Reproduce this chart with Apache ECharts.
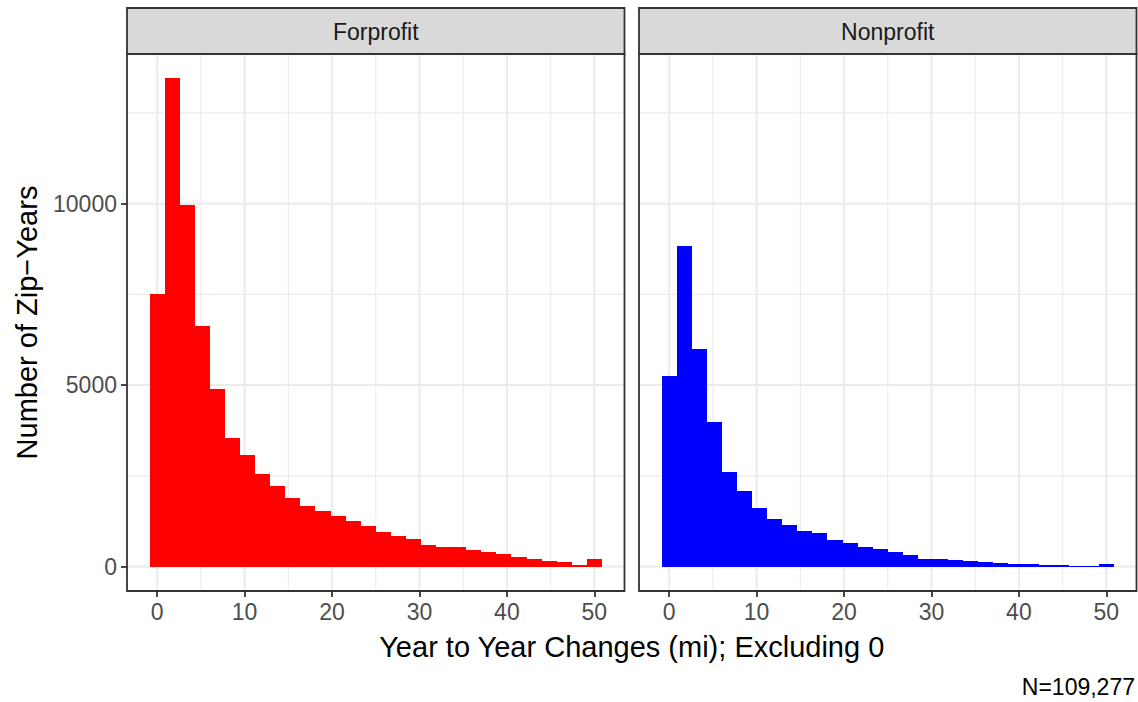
<!DOCTYPE html>
<html>
<head>
<meta charset="utf-8">
<title>Year to Year Changes</title>
<script src="https://cdn.jsdelivr.net/npm/echarts@6/dist/echarts.min.js"></script>
<style>
  html, body { margin: 0; padding: 0; background: #ffffff; overflow: hidden; }
  #chart { width: 1138px; height: 702px; }
</style>
</head>
<body>
<div id="chart"></div>
<script>
// Histogram counts per bin (30 bins, centred on 0 … 50 mi)
const FACETS = ['Forprofit', 'Nonprofit'];
const FORPROFIT_COUNTS = [7500, 13450, 9950, 6630, 4890, 3550, 3070, 2550, 2220, 1890,
                          1670, 1530, 1390, 1260, 1120, 960, 850, 765, 600, 545,
                          545, 460, 405, 350, 270, 210, 155, 133, 50, 215];
const NONPROFIT_COUNTS = [5250, 8820, 5990, 3985, 2610, 2090, 1620, 1320, 1155, 990,
                          935, 742, 660, 550, 495, 413, 330, 220, 220, 193,
                          165, 138, 110, 83, 83, 55, 55, 28, 15, 83];
const BIN_FIRST = 0;
const BIN_LAST = 50;
const X_TICKS = [0, 10, 20, 30, 40, 50];
const X_MINOR = [5, 15, 25, 35, 45];
const Y_TICKS = [0, 5000, 10000];
const Y_MINOR = [2500, 7500, 12500];
const CAPTION = 'N=109,277';
const X_TITLE = 'Year to Year Changes (mi); Excluding 0';
const Y_TITLE = 'Number of Zip\u2212Years';

const COUNTS = [FORPROFIT_COUNTS, NONPROFIT_COUNTS];
const COLORS = ['#ff0000', '#0000ff'];

// bin geometry
const NBINS = FORPROFIT_COUNTS.length;
const BW = (BIN_LAST - BIN_FIRST) / (NBINS - 1);
const binLo = BIN_FIRST - BW / 2, binHi = BIN_LAST + BW / 2;
const X_MIN = binLo - 0.05 * (binHi - binLo);
const X_MAX = binHi + 0.05 * (binHi - binLo);
const yTop = Math.max(...FORPROFIT_COUNTS, ...NONPROFIT_COUNTS);
const Y_MIN = -0.05 * yTop;
const Y_MAX = yTop * 1.05;

// layout
const FONT = '"Liberation Sans", Arial, Helvetica, sans-serif';
const PANEL_L = [127, 639];
const PANEL_W = 497.5;
const PANEL_TOP = 54;
const PANEL_H = 537;
const STRIP_TOP = 8;

const chart = echarts.init(document.getElementById('chart'), null, { renderer: 'svg' });

const grids = PANEL_L.map(l => ({ left: l, top: PANEL_TOP, width: PANEL_W, height: PANEL_H, containLabel: false }));

const xAxes = PANEL_L.map((_, i) => ({
  gridIndex: i, type: 'value', min: X_MIN, max: X_MAX, position: 'bottom',
  splitLine: { show: false },
  axisLine: { show: false, onZero: false },
  axisTick: { show: true, length: 6, customValues: X_TICKS, lineStyle: { color: '#333333', width: 1.8 } },
  axisLabel: {
    customValues: X_TICKS, color: '#4d4d4d', fontSize: 23, fontFamily: FONT, margin: 9,
    formatter: v => (X_TICKS.includes(v) ? String(v) : '')
  }
}));

const yAxes = PANEL_L.map((_, i) => ({
  gridIndex: i, type: 'value', min: Y_MIN, max: Y_MAX, position: 'left',
  splitLine: { show: false },
  axisLine: { show: false, onZero: false },
  axisTick: { show: i === 0, length: 6, customValues: Y_TICKS, lineStyle: { color: '#333333', width: 1.8 } },
  axisLabel: {
    show: i === 0, customValues: Y_TICKS, color: '#4d4d4d', fontSize: 23, fontFamily: FONT, margin: 10,
    formatter: v => (Y_TICKS.includes(v) ? String(v) : '')
  }
}));

// background grid lines, drawn through the axes
const GRID_LINES = [
  ...X_MINOR.map(v => ({ dir: 'x', v, major: false })),
  ...Y_MINOR.map(v => ({ dir: 'y', v, major: false })),
  ...X_TICKS.map(v => ({ dir: 'x', v, major: true })),
  ...Y_TICKS.map(v => ({ dir: 'y', v, major: true }))
];

function gridLineItem(params, api) {
  const g = GRID_LINES[params.dataIndex];
  const a = g.dir === 'x' ? api.coord([g.v, Y_MIN]) : api.coord([X_MIN, g.v]);
  const b = g.dir === 'x' ? api.coord([g.v, Y_MAX]) : api.coord([X_MAX, g.v]);
  return {
    type: 'line',
    shape: { x1: a[0], y1: a[1], x2: b[0], y2: b[1] },
    style: { stroke: '#ebebeb', lineWidth: g.major ? 2 : 1.1 }
  };
}

// bars snapped to whole pixels so neighbouring bins join without seams
function barItem(color) {
  return function (params, api) {
    const lo = api.coord([api.value(0), 0]);
    const hi = api.coord([api.value(1), api.value(2)]);
    const x0 = Math.round(lo[0]), x1 = Math.round(hi[0]);
    const y0 = Math.round(lo[1]), y1 = Math.round(hi[1]);
    return {
      type: 'rect',
      shape: { x: x0, y: y1, width: x1 - x0, height: y0 - y1 },
      style: { fill: color }
    };
  };
}

const series = [];
PANEL_L.forEach((_, i) => {
  series.push({
    type: 'custom', xAxisIndex: i, yAxisIndex: i, z: 1, silent: true,
    renderItem: gridLineItem,
    data: GRID_LINES.map(g => (g.dir === 'x' ? [g.v, 0] : [0, g.v]))
  });
  series.push({
    type: 'custom', name: FACETS[i], xAxisIndex: i, yAxisIndex: i, z: 2,
    renderItem: barItem(COLORS[i]),
    encode: { x: [0, 1], y: 2 },
    data: COUNTS[i].map((c, k) => {
      const centre = BIN_FIRST + k * BW;
      return [centre - BW / 2, centre + BW / 2, c];
    })
  });
});

// facet strips, panel borders and titles
const graphics = [];
PANEL_L.forEach((l, i) => {
  graphics.push({
    type: 'rect', z: 100,
    shape: { x: l, y: STRIP_TOP, width: PANEL_W, height: PANEL_TOP - STRIP_TOP },
    style: { fill: '#d9d9d9', stroke: '#333333', lineWidth: 1.8 }
  });
  graphics.push({
    type: 'text', z: 101, x: l + PANEL_W / 2, y: (STRIP_TOP + PANEL_TOP) / 2 + 1,
    style: { text: FACETS[i], align: 'center', verticalAlign: 'middle', fill: '#1a1a1a', fontSize: 23, fontFamily: FONT }
  });
  graphics.push({
    type: 'rect', z: 100,
    shape: { x: l, y: PANEL_TOP, width: PANEL_W, height: PANEL_H },
    style: { fill: 'none', stroke: '#333333', lineWidth: 1.8 }
  });
});
graphics.push({
  type: 'text', z: 101, x: (PANEL_L[0] + PANEL_L[1] + PANEL_W) / 2, y: 647,
  style: { text: X_TITLE, align: 'center', verticalAlign: 'middle', fill: '#000000', fontSize: 29, fontFamily: FONT }
});
graphics.push({
  type: 'text', z: 101, x: 27, y: PANEL_TOP + PANEL_H / 2, rotation: Math.PI / 2,
  style: { text: Y_TITLE, align: 'center', verticalAlign: 'middle', fill: '#000000', fontSize: 29, fontFamily: FONT }
});
graphics.push({
  type: 'text', z: 101, x: 1135, y: 687,
  style: { text: CAPTION, align: 'right', verticalAlign: 'middle', fill: '#000000', fontSize: 23, fontFamily: FONT }
});

chart.setOption({
  backgroundColor: '#ffffff',
  animation: false,
  grid: grids,
  xAxis: xAxes,
  yAxis: yAxes,
  series: series,
  graphic: { elements: graphics }
});
</script>
</body>
</html>
